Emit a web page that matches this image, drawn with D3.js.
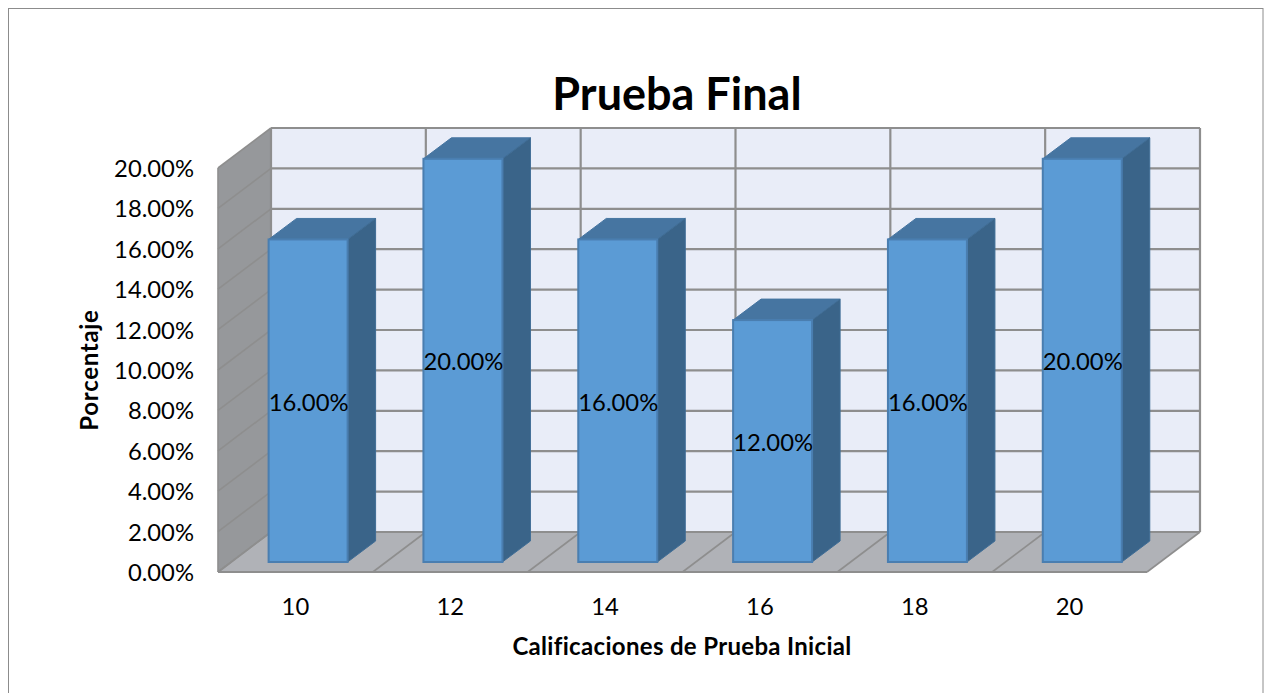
<!DOCTYPE html>
<html><head><meta charset="utf-8">
<script src="https://cdnjs.cloudflare.com/ajax/libs/d3/7.8.5/d3.min.js"></script>
<style>html,body{margin:0;padding:0;background:#fff}svg{display:block}text{font-family:Lato,"Open Sans",sans-serif;fill:#000}</style>
</head><body><svg id="c" width="1264" height="693"></svg>
<script>
const categories = ["10","12","14","16","18","20"];
const values = [16,20,16,12,16,20];
const yTicks = [0,2,4,6,8,10,12,14,16,18,20];
const titleText = "Prueba Final";
const xTitle = "Calificaciones de Prueba Inicial";
const yTitle = "Porcentaje";

const svg = d3.select("#c");
const x = d3.scaleBand().domain(categories).range([218,1147]).paddingInner(0).paddingOuter(0);
const y = d3.scaleLinear().domain([0,20]).range([572,168]);
const fmt = v => v.toFixed(2) + "%";
const wallD = {dx:53, dy:-40};
const barD = {dx:28, dy:-21};
const barW = 79, barInset = 50.6, barLift = 10, barScale = 0.998;
const grid = "#8e8e8e";
const poly = pts => pts.map(p => p.join(",")).join(" ");

svg.append("rect").attr("x",8.5).attr("y",8.5).attr("width",1254.5).attr("height",700)
  .attr("fill","#fff").attr("stroke","#8c8c8c").attr("stroke-width",1);

const x0 = x.range()[0], x1 = x.range()[1], yB = y(0), yT = y(20);
svg.append("rect").attr("x",x0+wallD.dx).attr("y",yT+wallD.dy).attr("width",x1-x0).attr("height",yB-yT).attr("fill","#e9edf8");
svg.append("polygon").attr("fill","#96989b").attr("points",poly([[x0,yB],[x0,yT],[x0+wallD.dx,yT+wallD.dy],[x0+wallD.dx,yB+wallD.dy]]));
svg.append("polygon").attr("fill","#b0b2b7").attr("points",poly([[x0,yB],[x1,yB],[x1+wallD.dx,yB+wallD.dy],[x0+wallD.dx,yB+wallD.dy]]));

const gl = svg.append("g").attr("fill","none").attr("stroke",grid);
yTicks.forEach(t => {
  gl.append("line").attr("x1",x0+wallD.dx).attr("x2",x1+wallD.dx).attr("y1",y(t)+wallD.dy).attr("y2",y(t)+wallD.dy).attr("stroke-width",2.2);
  gl.append("line").attr("x1",x0).attr("x2",x0+wallD.dx).attr("y1",y(t)).attr("y2",y(t)+wallD.dy).attr("stroke-width",1.6);
});
const edges = categories.map(c => x(c)).concat([x1]);
edges.forEach(e => {
  gl.append("line").attr("x1",e+wallD.dx).attr("x2",e+wallD.dx).attr("y1",yT+wallD.dy).attr("y2",yB+wallD.dy).attr("stroke-width",2.2);
  gl.append("line").attr("x1",e).attr("x2",e+wallD.dx).attr("y1",yB).attr("y2",yB+wallD.dy).attr("stroke-width",1.6);
});
gl.append("line").attr("x1",x0).attr("x2",x1).attr("y1",yB).attr("y2",yB).attr("stroke-width",2.2);
gl.append("line").attr("x1",x0).attr("x2",x0).attr("y1",yT).attr("y2",yB).attr("stroke-width",1.6);

const barH = v => (y(0) - y(v)) * barScale;
const bars = svg.append("g").selectAll("g").data(values).join("g");
const bx = (d,i) => x(categories[i]) + barInset;
const by = yB - barLift;
bars.append("polygon").attr("fill","#4675a1").attr("stroke","#4675a1").attr("stroke-width",1).attr("stroke-linejoin","round")
  .attr("points",(d,i)=>{const l=bx(d,i),t=by-barH(d);return poly([[l,t],[l+barW,t],[l+barW+barD.dx,t+barD.dy],[l+barD.dx,t+barD.dy]]);});
bars.append("polygon").attr("fill","#3a6489").attr("stroke","#3f6d96").attr("stroke-width",1).attr("stroke-linejoin","round")
  .attr("points",(d,i)=>{const l=bx(d,i)+barW,t=by-barH(d);return poly([[l,t],[l+barD.dx,t+barD.dy],[l+barD.dx,by+barD.dy],[l,by]]);});
bars.append("rect").attr("x",bx).attr("y",d=>by-barH(d)).attr("width",barW).attr("height",barH)
  .attr("fill","#5b9bd5").attr("stroke","#4a7eb0").attr("stroke-width",2);
bars.append("text").attr("x",(d,i)=>bx(d,i)+barW/2+0.5).attr("y",d=>by-barH(d)/2+10)
  .attr("text-anchor","middle").attr("font-size",23.8).text(fmt);

svg.append("g").selectAll("text").data(yTicks).join("text")
  .attr("x",194).attr("y",d=>y(d)+9).attr("text-anchor","end").attr("font-size",23.8).text(fmt);
svg.append("g").selectAll("text").data(categories).join("text")
  .attr("x",c=>x(c)+x.bandwidth()/2).attr("y",615).attr("text-anchor","middle").attr("font-size",23.8).text(c=>c);

svg.append("text").attr("x",677).attr("y",110).attr("text-anchor","middle").attr("font-size",45).attr("font-weight",700).text(titleText);
svg.append("text").attr("x",682).attr("y",655).attr("text-anchor","middle").attr("font-size",24).attr("letter-spacing",0.32).attr("font-weight",700).text(xTitle);
svg.append("text").attr("transform","translate(98,370) rotate(-90)").attr("text-anchor","middle").attr("font-size",24).attr("letter-spacing",0.7).attr("font-weight",700).text(yTitle);
</script></body></html>
